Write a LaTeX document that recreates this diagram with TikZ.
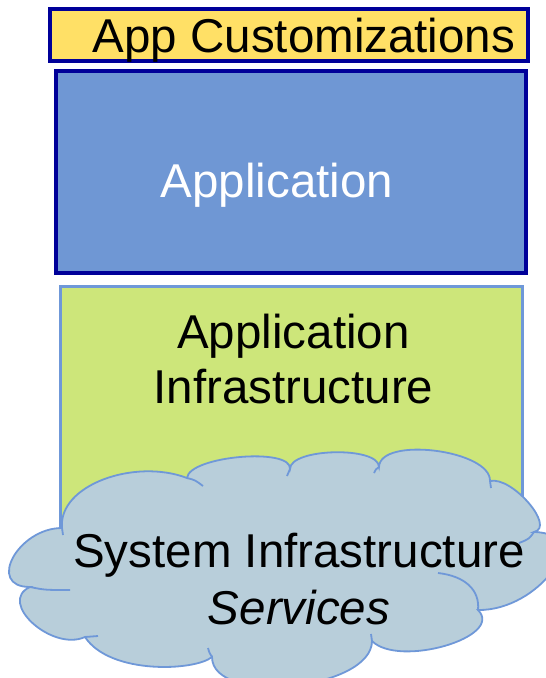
\documentclass[tikz,border=0pt]{standalone}
\usepackage{fontspec}
\setmainfont{Liberation Sans}
\definecolor{custfill}{RGB}{255,224,102}
\definecolor{darkframe}{RGB}{0,0,153}
\definecolor{appfill}{RGB}{111,151,212}
\definecolor{infrafill}{RGB}{205,230,122}
\definecolor{lightframe}{RGB}{111,152,216}
\definecolor{cloudfill}{RGB}{184,206,218}
\begin{document}
\begin{tikzpicture}[x=1pt,y=-1pt,
  lbl/.style={font=\fontsize{47.5}{55}\selectfont, inner sep=0pt, anchor=base, align=center},
  frame/.style={line width=4pt, draw=darkframe},
  cloudline/.style={draw=lightframe, line width=1.8pt}]
\useasboundingbox (0,0) rectangle (546,678);
\clip (0,0) rectangle (546,678);
% boxes
\draw[frame, fill=custfill] (50,9) rectangle (528,61);
\draw[frame, fill=appfill] (56,71) rectangle (526,273);
\draw[line width=3pt, draw=lightframe, fill=infrafill] (60,286.5) rectangle (522.5,560);
% cloud
\path[cloudline, fill=cloudfill] (85,637)
  .. controls (52,652) and (-3,602) .. (30,587)
  .. controls (-14,587) and (18,528) .. (62,528)
  .. controls (58,485) and (135,458) .. (187,478)
  .. controls (189,456) and (292,447) .. (290,469)
  .. controls (290,448) and (379,446) .. (379,467)
  .. controls (380,436) and (491,450) .. (490,481)
  .. controls (512,476) and (556,527) .. (534,532)
  .. controls (595,533) and (539,611) .. (478,610)
  .. controls (505,637) and (399,668) .. (372,641)
  .. controls (372,690) and (212,706) .. (212,657)
  .. controls (195,671) and (110,675) .. (85,637) -- cycle;
% inner strokes of the cloud
\draw[cloudline] (478,610) .. controls (480,590) and (465,576) .. (438,573);
\draw[cloudline] (187,478) .. controls (195,480) .. (203,486);
\draw[cloudline] (290,469) .. controls (288,472) .. (287,476);
\draw[cloudline] (379,467) .. controls (376,469) .. (374,473);
\draw[cloudline] (490,481) .. controls (491,484) .. (491,488);
\draw[cloudline] (534,532) .. controls (529,539) .. (519,543);
\draw[cloudline] (372,641) .. controls (371,638) .. (371,634);
\draw[cloudline] (212,657) .. controls (209,652) .. (208,648);
\draw[cloudline] (85,637) .. controls (91,637) .. (98,636);
\draw[cloudline] (30,587) .. controls (45,590) .. (70,590);
\draw[cloudline] (62,528) .. controls (62,531) .. (63,535);
% texts
\node[lbl] (cust) at (304,52) {App Customizations};
\node[lbl, text=white] (app) at (277,197) {Application};
\node[lbl] (appinfra) at (293.5,403) {Application\\Infrastructure};
\node[lbl, font=\fontsize{47.5}{57}\selectfont] (sysinfra) at (299,624) {System Infrastructure\\\textit{Services}};
\end{tikzpicture}
\end{document}
